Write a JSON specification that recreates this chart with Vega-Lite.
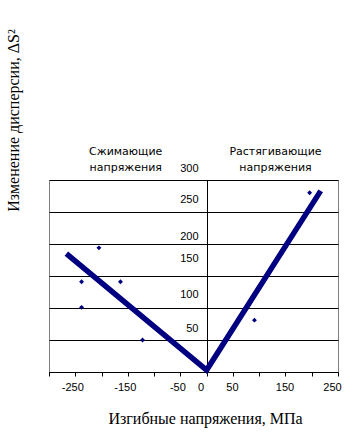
{
  "$schema": "https://vega.github.io/schema/vega-lite/v6.json",
  "width": 289,
  "height": 192,
  "autosize": {"type": "none"},
  "padding": {"left": 49, "top": 180, "right": 17, "bottom": 60},
  "background": "white",
  "config": {"view": {"stroke": "#808080", "strokeWidth": 1}},
  "encoding": {
    "x": {
      "field": "s",
      "type": "quantitative",
      "scale": {"domain": [-300, 250], "nice": false, "zero": false},
      "axis": {
        "title": "Изгибные напряжения, МПа",
        "titleFont": "Liberation Serif",
        "titleFontSize": 16,
        "titleFontWeight": "normal",
        "titleColor": "black",
        "titleX": 156,
        "titleY": 51,
        "titleBaseline": "alphabetic",
        "values": [-300, -250, -200, -150, -100, -50, 0, 50, 100, 150, 200, 250],
        "labelExpr": "indexof([-250,-150,-50,0,50,150,250], datum.value) >= 0 ? '' + datum.value : ''",
        "labelFont": "Liberation Sans",
        "labelFontSize": 11,
        "labelColor": "black",
        "labelFlush": false,
        "labelOverlap": false,
        "labelPadding": 5,
        "labelOffset": {"condition": [{"test": "datum.value == 0 || datum.value == 250", "value": -6}, {"test": "datum.value < 0", "value": -3}], "value": -1},
        "tickSize": 4,
        "tickColor": "black",
        "domainColor": "black",
        "grid": false
      }
    },
    "y": {
      "field": "d",
      "type": "quantitative",
      "scale": {"domain": [0, 300], "nice": false},
      "axis": {
        "title": "Изменение дисперсии, ΔS²",
        "titleFont": "Liberation Serif",
        "titleFontSize": 16,
        "titleFontWeight": "normal",
        "titleColor": "black",
        "titleAngle": -90,
        "titleX": -189,
        "titleY": -60,
        "titleAlign": "center",
        "titleBaseline": "alphabetic",
        "offset": -158,
        "values": [0, 50, 100, 150, 200, 250, 300],
        "labelExpr": "datum.value == 0 ? '' : '' + datum.value",
        "labelFont": "Liberation Sans",
        "labelFontSize": 11,
        "labelColor": "black",
        "labelOverlap": false,
        "labelFlush": false,
        "labelPadding": 9,
        "labelBaseline": "middle",
        "labelOffset": {"condition": [
          {"test": "datum.value == 300", "value": -12},
          {"test": "datum.value == 250", "value": -13},
          {"test": "datum.value == 200", "value": -8},
          {"test": "datum.value == 150", "value": -18},
          {"test": "datum.value == 100", "value": -14}
        ], "value": -12},
        "ticks": false,
        "domainColor": "black",
        "grid": true,
        "gridColor": "black",
        "gridOpacity": 1,
        "gridWidth": 1
      }
    }
  },
  "layer": [
    {
      "data": {"values": [
        {"s": -267, "d": 185},
        {"s": 0, "d": 3},
        {"s": 217, "d": 283}
      ]},
      "mark": {"type": "line", "color": "#000080", "strokeWidth": 5.5}
    },
    {
      "data": {"values": [
        {"s": -238, "d": 141},
        {"s": -205, "d": 194},
        {"s": -164, "d": 141},
        {"s": -238, "d": 101},
        {"s": -122, "d": 50},
        {"s": 91, "d": 81},
        {"s": 196, "d": 280}
      ]},
      "mark": {"type": "point", "shape": "diamond", "filled": true, "color": "#000080", "opacity": 1, "size": 24}
    },
    {
      "data": {"values": [
        {"s": -154, "d": 344, "t": "Сжимающие"},
        {"s": -154, "d": 319, "t": "напряжения"},
        {"s": 131, "d": 344, "t": "Растягивающие"},
        {"s": 131, "d": 319, "t": "напряжения"}
      ]},
      "mark": {"type": "text", "font": "DejaVu Sans", "fontSize": 11, "color": "black", "align": "center", "baseline": "middle"},
      "encoding": {"text": {"field": "t"}}
    }
  ]
}
